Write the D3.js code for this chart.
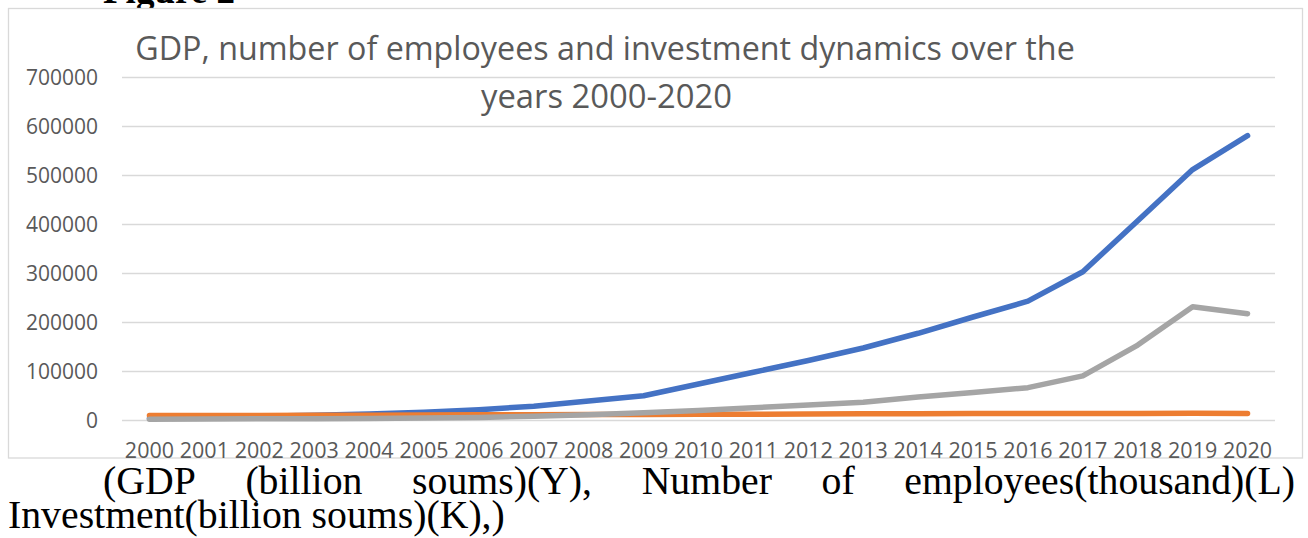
<!DOCTYPE html>
<html>
<head>
<meta charset="utf-8">
<script src="https://cdn.jsdelivr.net/npm/d3@7"></script>
<style>
  html, body { margin: 0; padding: 0; background: #ffffff; }
  svg { display: block; }
</style>
</head>
<body>
<svg id="chart" width="1308" height="538"></svg>
<script>
// ---- data ----
const years = ["2000","2001","2002","2003","2004","2005","2006","2007","2008","2009","2010",
               "2011","2012","2013","2014","2015","2016","2017","2018","2019","2020"];
const gdp = [3255, 4925, 7450, 9844, 12261, 15923, 21124, 28186, 38970, 49376, 73500,
             97500, 121500, 147000, 177000, 210183, 242496, 302537, 406648, 511000, 580203];
const employees = [8983, 9136, 9333, 9589, 9911, 10196, 10467, 10735, 11035, 11328, 11628,
                   11919, 12223, 12523, 12818, 13058, 13298, 13520, 13273, 13541, 13236];
const investment = [1321, 1900, 2400, 2700, 3300, 3900, 5300, 7400, 10500, 15000, 19500,
                    25000, 30500, 36000, 47000, 56000, 66000, 90000, 153000, 231000, 217000];
const yTicks = [0, 100000, 200000, 300000, 400000, 500000, 600000, 700000];
const titleLines = ["GDP, number of employees and investment dynamics over the", "years 2000-2020"];
const captionLine1 = ["(GDP", "(billion", "soums)(Y),", "Number", "of", "employees(thousand)(L)"];
const captionLine2 = "Investment(billion soums)(K),)";
const figureLabel = "Figure 2";

const seriesList = [
  { name: "GDP (billion soums)(Y)", values: gdp, color: "#4472C4" },
  { name: "Number of employees(thousand)(L)", values: employees, color: "#ED7D31" },
  { name: "Investment(billion soums)(K)", values: investment, color: "#A5A5A5" }
];

// ---- layout ----
const svg = d3.select("#chart");
const plotLeft = 122, plotRight = 1275, plotTop = 77, plotBottom = 420;
const frame = { x: 8.5, y: 8.5, w: 1294, h: 449.5 };

const x = d3.scaleBand().domain(years).range([plotLeft, plotRight]);
const xc = d => x(d) + x.bandwidth() / 2;
const y = d3.scaleLinear().domain([0, 700000]).range([plotBottom, plotTop]);

// fitted text helper: pick font size so width matches target
function fitText(sel, targetWidth) {
  const fs = parseFloat(sel.attr("font-size"));
  const w = sel.node().getComputedTextLength();
  sel.attr("font-size", fs * targetWidth / w);
}

// figure label (cut off at top)
const fig = svg.append("text")
  .attr("x", 103).attr("y", 3)
  .attr("font-family", "'Liberation Serif', 'Times New Roman', serif")
  .attr("font-weight", "bold")
  .attr("font-size", 30)
  .attr("fill", "#000")
  .text(figureLabel);
fitText(fig, 132);

// chart frame
svg.append("rect")
  .attr("x", frame.x).attr("y", frame.y)
  .attr("width", frame.w).attr("height", frame.h)
  .attr("fill", "#fff").attr("stroke", "#D9D9D9").attr("stroke-width", 1.3);

svg.append("clipPath").attr("id", "frameClip")
  .append("rect")
  .attr("x", frame.x).attr("y", frame.y)
  .attr("width", frame.w).attr("height", frame.h);

// y axis with gridlines
const yAxis = svg.append("g")
  .attr("transform", `translate(${plotLeft},0)`)
  .call(d3.axisLeft(y).tickValues(yTicks).tickFormat(d3.format("d"))
        .tickSize(-(plotRight - plotLeft)).tickPadding(24));
yAxis.select(".domain").remove();
yAxis.selectAll(".tick line").attr("stroke", "#D9D9D9").attr("stroke-width", 1.3);
yAxis.selectAll(".tick text")
  .attr("font-family", "'Open Sans', sans-serif")
  .attr("font-size", 21)
  .attr("fill", "#595959")
  .attr("dy", "0.36em");

// x axis labels (clipped by frame)
const xAxis = svg.append("g")
  .attr("clip-path", "url(#frameClip)")
  .append("g")
  .attr("transform", `translate(0,${plotBottom})`)
  .call(d3.axisBottom(x).tickSize(0).tickPadding(23));
xAxis.select(".domain").remove();
xAxis.selectAll(".tick text")
  .attr("font-family", "'Open Sans', sans-serif")
  .attr("font-size", 21.5)
  .attr("fill", "#595959");

// lines
const line = d3.line().x((d, i) => xc(years[i])).y(d => y(d));
svg.append("g").selectAll("path")
  .data(seriesList)
  .join("path")
  .attr("d", s => line(s.values))
  .attr("fill", "none")
  .attr("stroke", s => s.color)
  .attr("stroke-width", 5.5)
  .attr("stroke-linecap", "round")
  .attr("stroke-linejoin", "round");

// title
const titleSpecs = [
  { text: titleLines[0], cx: 605, base: 60, w: 940 },
  { text: titleLines[1], cx: 606.5, base: 108, w: 251 }
];
titleSpecs.forEach(t => {
  const el = svg.append("text")
    .attr("x", t.cx).attr("y", t.base)
    .attr("text-anchor", "middle")
    .attr("font-family", "'Open Sans', sans-serif")
    .attr("font-size", 30)
    .attr("fill", "#595959")
    .text(t.text);
  fitText(el, t.w);
});

// caption
const capFont = "'Liberation Serif', 'Times New Roman', serif";
const cap2 = svg.append("text")
  .attr("x", 8).attr("y", 528)
  .attr("font-family", capFont).attr("font-size", 30).attr("fill", "#000")
  .text(captionLine2);
fitText(cap2, 497);
const capSize = parseFloat(cap2.attr("font-size"));

// justified first caption line
const l1Start = 103, l1End = 1295;
const words = captionLine1.map(w => {
  const el = svg.append("text")
    .attr("y", 494)
    .attr("font-family", capFont).attr("font-size", capSize).attr("fill", "#000")
    .text(w);
  return { el, w: el.node().getComputedTextLength() };
});
const totalW = d3.sum(words, d => d.w);
const gap = (l1End - l1Start - totalW) / (words.length - 1);
let cx = l1Start;
words.forEach(d => { d.el.attr("x", cx); cx += d.w + gap; });
</script>
</body>
</html>
